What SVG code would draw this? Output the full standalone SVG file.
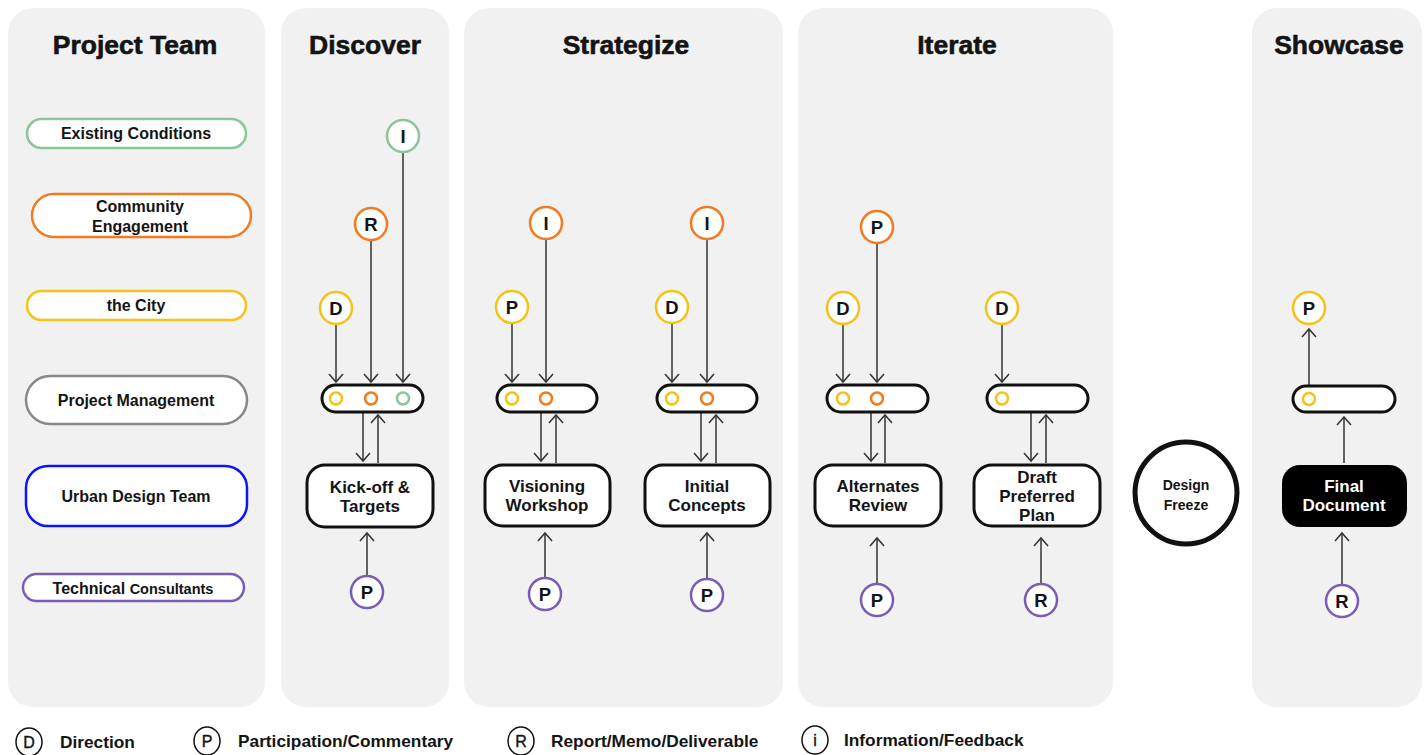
<svg xmlns="http://www.w3.org/2000/svg" width="1428" height="755" viewBox="0 0 1428 755">
<style>
text{font-family:"Liberation Sans",Arial,sans-serif;font-weight:bold;fill:#141414;text-anchor:middle}
.hdr{font-size:26.5px;stroke:#141414;stroke-width:0.6}
.lbl{font-size:16px}
.panel{fill:#f1f1f1}
.role{fill:#fff;stroke-width:2.5}
.pill{fill:#fff;stroke:#111;stroke-width:3}
.box{fill:#fff;stroke:#111;stroke-width:3}
.bt{font-size:17px}
.c{fill:#fff;stroke-width:2.5}
.ct{font-size:18.5px}
.dot{fill:#fff;stroke-width:2.5}
.y{stroke:#f5c21b}.o{stroke:#f47a1f}.g{stroke:#8cc59a}.pu{stroke:#7a5cb8}
.ln{stroke:#333;stroke-width:1.5;fill:none;marker-end:url(#ah)}
.leg{font-size:17.3px;text-anchor:start}
.lc{fill:#fff;stroke:#111;stroke-width:1.5}
.lct{font-size:16px;font-weight:normal;stroke:#141414;stroke-width:0.4}
</style>
<defs>
<marker id="ah" markerUnits="userSpaceOnUse" markerWidth="20" markerHeight="20" viewBox="-10 -10 20 20" refX="0" refY="0" orient="auto" overflow="visible">
<path d="M-8,-7 L0,0 L-8,7" fill="none" stroke="#333" stroke-width="1.5"/>
</marker>
</defs>
<rect width="1428" height="755" fill="#fff"/>
<g id="panels">
<rect class="panel" x="8" y="8" width="257" height="699" rx="25"/>
<rect class="panel" x="281" y="8" width="168" height="699" rx="25"/>
<rect class="panel" x="464" y="8" width="319" height="699" rx="25"/>
<rect class="panel" x="798" y="8" width="315" height="699" rx="25"/>
<rect class="panel" x="1252" y="8" width="170" height="699" rx="25"/>
<text class="hdr" x="135" y="54">Project Team</text>
<text class="hdr" x="365" y="54">Discover</text>
<text class="hdr" x="626" y="54">Strategize</text>
<text class="hdr" x="957" y="54">Iterate</text>
<text class="hdr" x="1339" y="54">Showcase</text>
</g>
<g id="roles">
<g id="role-existing"><rect class="role g" x="27" y="119" width="219" height="29" rx="14.5"/><text class="lbl" x="136" y="139">Existing Conditions</text></g>
<g id="role-community"><rect class="role o" x="32" y="194" width="219" height="43" rx="21.5"/><text class="lbl" x="140" y="212">Community</text><text class="lbl" x="140" y="232">Engagement</text></g>
<g id="role-city"><rect class="role y" x="27" y="291" width="219" height="29" rx="14.5"/><text class="lbl" x="136" y="311">the City</text></g>
<g id="role-pm"><rect class="role" stroke="#888" x="26" y="376" width="221" height="48" rx="24"/><text class="lbl" x="136" y="406">Project Management</text></g>
<g id="role-udt"><rect class="role" stroke="#0a14ff" x="26" y="466" width="221" height="60" rx="22"/><text class="lbl" x="136" y="502">Urban Design Team</text></g>
<g id="role-tech"><rect class="role pu" x="23" y="574" width="221" height="27" rx="13.5"/><text x="133" y="594"><tspan font-size="16">Technical </tspan><tspan font-size="14.5">Consultants</tspan></text></g>
</g>
<g id="connectors">
<line class="ln" x1="336" y1="325" x2="336" y2="382"/>
<line class="ln" x1="371" y1="241" x2="371" y2="382"/>
<line class="ln" x1="403" y1="153" x2="403" y2="382"/>
<line class="ln" x1="363" y1="413" x2="363" y2="461"/>
<line class="ln" x1="378" y1="463" x2="378" y2="415"/>
<line class="ln" x1="367" y1="575" x2="367" y2="533"/>

<line class="ln" x1="512" y1="324" x2="512" y2="382"/>
<line class="ln" x1="546" y1="240" x2="546" y2="382"/>
<line class="ln" x1="541" y1="413" x2="541" y2="461"/>
<line class="ln" x1="556" y1="463" x2="556" y2="415"/>
<line class="ln" x1="545" y1="577" x2="545" y2="533"/>

<line class="ln" x1="672" y1="324" x2="672" y2="382"/>
<line class="ln" x1="707" y1="240" x2="707" y2="382"/>
<line class="ln" x1="701" y1="413" x2="701" y2="461"/>
<line class="ln" x1="716" y1="463" x2="716" y2="415"/>
<line class="ln" x1="707" y1="578" x2="707" y2="533"/>

<line class="ln" x1="843" y1="325" x2="843" y2="382"/>
<line class="ln" x1="877" y1="244" x2="877" y2="382"/>
<line class="ln" x1="871" y1="413" x2="871" y2="461"/>
<line class="ln" x1="885" y1="463" x2="885" y2="415"/>
<line class="ln" x1="877" y1="583" x2="877" y2="538"/>

<line class="ln" x1="1002" y1="325" x2="1002" y2="382"/>
<line class="ln" x1="1031" y1="413" x2="1031" y2="461"/>
<line class="ln" x1="1046" y1="463" x2="1046" y2="415"/>
<line class="ln" x1="1041" y1="583" x2="1041" y2="538"/>

<line class="ln" x1="1309" y1="385" x2="1309" y2="329"/>
<line class="ln" x1="1344" y1="463" x2="1344" y2="417"/>
<line class="ln" x1="1342" y1="584" x2="1342" y2="533"/>
</g>
<g id="discover">
<g id="d-I"><circle class="c g" cx="403" cy="136" r="16"/><text class="ct" x="403" y="142.5">I</text></g>
<g id="d-R"><circle class="c o" cx="371" cy="224" r="16"/><text class="ct" x="371" y="230.5">R</text></g>
<g id="d-D"><circle class="c y" cx="336" cy="308" r="16"/><text class="ct" x="336" y="314.5">D</text></g>
<g id="d-pm"><rect class="pill" x="322" y="385" width="101" height="27" rx="13.5"/><circle class="dot y" cx="336" cy="398.5" r="6"/><circle class="dot o" cx="371" cy="398.5" r="6"/><circle class="dot g" cx="403" cy="398.5" r="6"/></g>
<g id="kickoff"><rect class="box" x="307" y="465" width="126" height="62" rx="18"/><text class="bt" x="370" y="493">Kick-off &amp;</text><text class="bt" x="370" y="512">Targets</text></g>
<g id="d-P"><circle class="c pu" cx="367" cy="592" r="16"/><text class="ct" x="367" y="598.5">P</text></g>
</g>
<g id="strategize">
<g id="s1-I"><circle class="c o" cx="546" cy="223" r="16"/><text class="ct" x="546" y="229.5">I</text></g>
<g id="s1-P"><circle class="c y" cx="512" cy="307" r="16"/><text class="ct" x="512" y="313.5">P</text></g>
<g id="s1-pm"><rect class="pill" x="497" y="385" width="100" height="27" rx="13.5"/><circle class="dot y" cx="512" cy="398.5" r="6"/><circle class="dot o" cx="546" cy="398.5" r="6"/></g>
<g id="visioning"><rect class="box" x="485" y="465" width="125" height="61" rx="18"/><text class="bt" x="547" y="492">Visioning</text><text class="bt" x="547" y="511">Workshop</text></g>
<g id="s1-Pb"><circle class="c pu" cx="545" cy="594" r="16"/><text class="ct" x="545" y="600.5">P</text></g>
<g id="s2-I"><circle class="c o" cx="707" cy="223" r="16"/><text class="ct" x="707" y="229.5">I</text></g>
<g id="s2-D"><circle class="c y" cx="672" cy="307" r="16"/><text class="ct" x="672" y="313.5">D</text></g>
<g id="s2-pm"><rect class="pill" x="657" y="385" width="100" height="27" rx="13.5"/><circle class="dot y" cx="672" cy="398.5" r="6"/><circle class="dot o" cx="707" cy="398.5" r="6"/></g>
<g id="initial"><rect class="box" x="645" y="465" width="125" height="61" rx="18"/><text class="bt" x="707" y="492">Initial</text><text class="bt" x="707" y="511">Concepts</text></g>
<g id="s2-Pb"><circle class="c pu" cx="707" cy="595" r="16"/><text class="ct" x="707" y="601.5">P</text></g>
</g>
<g id="iterate">
<g id="i1-P"><circle class="c o" cx="877" cy="227" r="16"/><text class="ct" x="877" y="233.5">P</text></g>
<g id="i1-D"><circle class="c y" cx="843" cy="308" r="16"/><text class="ct" x="843" y="314.5">D</text></g>
<g id="i1-pm"><rect class="pill" x="827" y="385" width="101" height="27" rx="13.5"/><circle class="dot y" cx="843" cy="398.5" r="6"/><circle class="dot o" cx="877" cy="398.5" r="6"/></g>
<g id="alternates"><rect class="box" x="815" y="465" width="126" height="61" rx="18"/><text class="bt" x="878" y="492">Alternates</text><text class="bt" x="878" y="511">Review</text></g>
<g id="i1-Pb"><circle class="c pu" cx="877" cy="600" r="16"/><text class="ct" x="877" y="606.5">P</text></g>
<g id="i2-D"><circle class="c y" cx="1002" cy="308" r="16"/><text class="ct" x="1002" y="314.5">D</text></g>
<g id="i2-pm"><rect class="pill" x="987" y="385" width="101" height="27" rx="13.5"/><circle class="dot y" cx="1002" cy="398.5" r="6"/></g>
<g id="draft"><rect class="box" x="974" y="465" width="126" height="61" rx="18"/><text class="bt" x="1037" y="483">Draft</text><text class="bt" x="1037" y="502">Preferred</text><text class="bt" x="1037" y="521">Plan</text></g>
<g id="i2-R"><circle class="c pu" cx="1041" cy="600" r="16"/><text class="ct" x="1041" y="606.5">R</text></g>
</g>
<g id="freeze"><circle cx="1186" cy="493" r="51" fill="#fff" stroke="#111" stroke-width="5"/><text font-size="14" x="1186" y="490">Design</text><text font-size="14" x="1186" y="510">Freeze</text></g>
<g id="showcase">
<g id="sh-P"><circle class="c y" cx="1309" cy="308" r="16"/><text class="ct" x="1309" y="314.5">P</text></g>
<g id="sh-pm"><rect class="pill" x="1293" y="386" width="102" height="26" rx="13"/><circle class="dot y" cx="1309" cy="399" r="6"/></g>
<g id="final"><rect x="1282" y="465" width="125" height="62" rx="18" fill="#000"/><text class="bt" x="1344" y="492" style="fill:#fff">Final</text><text class="bt" x="1344" y="511" style="fill:#fff">Document</text></g>
<g id="sh-R"><circle class="c pu" cx="1342" cy="601" r="16"/><text class="ct" x="1342" y="607.5">R</text></g>
</g>
<g id="legend">
<ellipse class="lc" cx="29" cy="742" rx="13" ry="14"/><text class="lct" x="29" y="748">D</text><text class="leg" x="60" y="748">Direction</text>
<ellipse class="lc" cx="207" cy="741" rx="13" ry="14"/><text class="lct" x="207" y="747">P</text><text class="leg" x="238" y="747">Participation/Commentary</text>
<ellipse class="lc" cx="521" cy="741" rx="13" ry="14"/><text class="lct" x="521" y="747">R</text><text class="leg" x="551" y="747">Report/Memo/Deliverable</text>
<ellipse class="lc" cx="815" cy="740" rx="13" ry="14"/><text class="lct" x="815" y="746">i</text><text class="leg" x="844" y="746">Information/Feedback</text>
</g>
</svg>
